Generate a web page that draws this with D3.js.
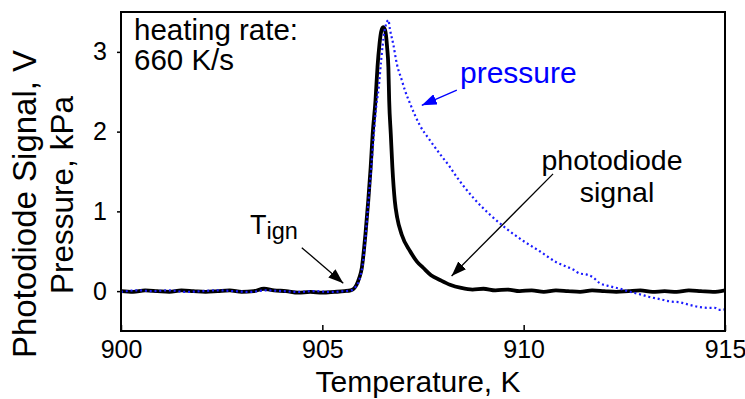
<!DOCTYPE html>
<html>
<head>
<meta charset="utf-8">
<script src="https://cdn.jsdelivr.net/npm/d3@7"></script>
<style>
  html, body { margin: 0; padding: 0; background: #fff; }
  svg { display: block; }
  text { font-family: "Liberation Sans", Arial, sans-serif; }
</style>
</head>
<body>
<svg id="chart" width="745" height="399"></svg>
<script>
// Photodiode signal (V) versus temperature (K)
const photoT = [900.0, 900.3, 900.6, 900.9, 901.2, 901.5, 901.8, 902.1, 902.4, 902.7,
  903.0, 903.3, 903.55, 903.8, 904.1, 904.4, 904.7, 905.0, 905.3, 905.55,
  905.70, 905.78, 905.85, 905.92, 905.98, 906.03, 906.07, 906.14, 906.20, 906.25,
  906.32, 906.37, 906.42, 906.46, 906.51, 906.56, 906.61, 906.64, 906.66, 906.70,
  906.74, 906.80, 906.86, 906.97, 907.18, 907.35, 907.51, 907.70, 907.92, 908.17,
  908.45, 908.73, 909.0, 909.3, 909.6, 909.9, 910.2, 910.5, 910.8, 911.1,
  911.4, 911.7, 912.0, 912.3, 912.6, 912.9, 913.2, 913.5, 913.8, 914.1,
  914.4, 914.7, 915.0];
const photoV = [0.00, -0.01, 0.01, 0.00, -0.01, 0.01, 0.00, -0.01, 0.00, 0.01,
  -0.01, 0.00, 0.03, 0.01, 0.00, -0.02, -0.01, -0.02, -0.01, 0.00,
  0.01, 0.03, 0.08, 0.17, 0.29, 0.50, 0.71, 1.13, 1.55, 1.97,
  2.39, 2.81, 3.10, 3.25, 3.31, 3.27, 3.05, 2.81, 2.39, 1.97,
  1.55, 1.13, 0.92, 0.71, 0.50, 0.37, 0.29, 0.20, 0.14, 0.08,
  0.04, 0.02, 0.03, 0.01, 0.02, 0.00, 0.01, -0.01, 0.01, 0.00,
  -0.01, 0.01, 0.00, -0.01, 0.00, 0.01, -0.01, 0.00, -0.01, 0.01,
  0.00, -0.01, 0.01];

// Chamber pressure (kPa) versus temperature (K)
const pressT = [900.0, 900.4, 900.8, 901.2, 901.6, 902.0, 902.4, 902.8, 903.2, 903.6,
  904.0, 904.4, 904.8, 905.2, 905.55, 905.72, 905.80, 905.88, 905.95, 906.00,
  906.05, 906.09, 906.15, 906.22, 906.28, 906.34, 906.40, 906.46, 906.54, 906.60,
  906.64, 906.68, 906.76, 906.85, 906.97, 907.05, 907.18, 907.42, 907.66, 907.92,
  908.15, 908.34, 908.55, 908.75, 909.16, 909.58, 909.99, 910.40, 910.82, 911.05,
  911.23, 911.40, 911.55, 911.73, 911.89, 912.15, 912.39, 912.65, 912.89, 913.10,
  913.38, 913.65, 913.88, 914.10, 914.38, 914.60, 914.75, 914.84, 915.0];
const pressP = [-0.01, 0.01, 0.00, 0.01, -0.01, 0.00, 0.01, 0.00, -0.01, 0.01,
  0.00, -0.01, 0.00, -0.01, 0.00, 0.01, 0.04, 0.09, 0.20, 0.32,
  0.55, 0.78, 1.15, 1.58, 1.97, 2.32, 2.55, 2.89, 3.25, 3.37,
  3.40, 3.28, 3.10, 2.85, 2.65, 2.52, 2.35, 2.08, 1.90, 1.72,
  1.57, 1.43, 1.29, 1.17, 0.96, 0.78, 0.63, 0.50, 0.36, 0.31,
  0.27, 0.22, 0.21, 0.17, 0.10, 0.06, 0.03, -0.01, -0.04, -0.07,
  -0.10, -0.13, -0.14, -0.17, -0.20, -0.21, -0.21, -0.235, -0.23];

// Axis ticks
const xTicks = [900, 905, 910, 915];
const yTicks = [0, 1, 2, 3];

const svg = d3.select("#chart");
const plot = { left: 121, right: 725, top: 12, bottom: 331 };

const x = d3.scaleLinear().domain([900, 915]).range([plot.left, plot.right]);
const y = d3.scaleLinear().domain([-0.5, 3.5]).range([plot.bottom, plot.top]);

// Arrowhead markers
const defs = svg.append("defs");
function arrowMarker(id, color) {
  defs.append("marker")
    .attr("id", id)
    .attr("viewBox", "0 0 15 11")
    .attr("refX", 15).attr("refY", 5.5)
    .attr("markerUnits", "userSpaceOnUse")
    .attr("markerWidth", 15).attr("markerHeight", 11)
    .attr("orient", "auto")
    .append("path").attr("d", "M0,0 L15,5.5 L0,11 Z").attr("fill", color);
}
arrowMarker("headBlack", "#000");
arrowMarker("headBlue", "#0000ff");

const clipId = "plotClip";
defs.append("clipPath").attr("id", clipId)
  .append("rect")
  .attr("x", plot.left).attr("y", plot.top)
  .attr("width", plot.right - plot.left).attr("height", plot.bottom - plot.top);

// Series
const photo = photoT.map((t, i) => [t, photoV[i]]);
const press = pressT.map((t, i) => [t, pressP[i]]);
const line = d3.line().x(d => x(d[0])).y(d => y(d[1])).curve(d3.curveMonotoneX);

const series = svg.append("g").attr("clip-path", `url(#${clipId})`);
series.append("path").datum(photo)
  .attr("d", line)
  .attr("fill", "none").attr("stroke", "#000")
  .attr("stroke-width", 3.8).attr("stroke-linejoin", "round");
series.append("path").datum(press)
  .attr("d", line)
  .attr("fill", "none").attr("stroke", "#1a1aff")
  .attr("stroke-width", 2.2).attr("stroke-dasharray", "2 2.8");

// Frame
svg.append("rect")
  .attr("x", plot.left).attr("y", plot.top)
  .attr("width", plot.right - plot.left).attr("height", plot.bottom - plot.top)
  .attr("fill", "none").attr("stroke", "#000").attr("stroke-width", 2);

// X axis: ticks pointing inward
const xAxis = svg.append("g").attr("transform", `translate(0,${plot.bottom})`)
  .call(d3.axisBottom(x).tickValues(xTicks).tickSizeInner(-6).tickSizeOuter(0)
    .tickPadding(9).tickFormat(d3.format("d")));
xAxis.select(".domain").remove();
xAxis.selectAll("line").attr("stroke", "#000").attr("stroke-width", 1.5);
xAxis.selectAll("text").attr("font-size", 25).attr("fill", "#000")
  .attr("font-family", "Liberation Sans, Arial, sans-serif");

// Y axis: ticks pointing outward
const yAxis = svg.append("g").attr("transform", `translate(${plot.left},0)`)
  .call(d3.axisLeft(y).tickValues(yTicks).tickSizeInner(4).tickSizeOuter(0)
    .tickPadding(10).tickFormat(d3.format("d")));
yAxis.select(".domain").remove();
yAxis.selectAll("line").attr("stroke", "#000").attr("stroke-width", 1.5);
yAxis.selectAll("text").attr("font-size", 25).attr("fill", "#000")
  .attr("font-family", "Liberation Sans, Arial, sans-serif");

// Axis titles
svg.append("text")
  .attr("x", (plot.left + plot.right) / 2 - 5).attr("y", 392)
  .attr("text-anchor", "middle").attr("font-size", 30)
  .text("Temperature, K");
svg.append("text")
  .attr("transform", "translate(36,204) rotate(-90)")
  .attr("text-anchor", "middle").attr("font-size", 33)
  .text("Photodiode Signal, V");
svg.append("text")
  .attr("transform", "translate(73,195) rotate(-90)")
  .attr("text-anchor", "middle").attr("font-size", 31.5)
  .text("Pressure, kPa");

// Heating-rate note
svg.append("text").attr("x", 134).attr("y", 40).attr("font-size", 29.5).text("heating rate:");
svg.append("text").attr("x", 134).attr("y", 70).attr("font-size", 29.5).text("660 K/s");

// Ignition point label and arrow
const tign = svg.append("text").attr("x", 250).attr("y", 234).attr("font-size", 27);
tign.append("tspan").text("T");
tign.append("tspan").attr("dy", 5).attr("font-size", 23.5).text("ign");
svg.append("line")
  .attr("x1", x(904.49)).attr("y1", y(0.545))
  .attr("x2", x(905.52)).attr("y2", y(0.10))
  .attr("stroke", "#000").attr("stroke-width", 1.3)
  .attr("marker-end", "url(#headBlack)");

// Pressure label and arrow
svg.append("text").attr("x", 460).attr("y", 83).attr("font-size", 30)
  .attr("fill", "#0000ff").text("pressure");
svg.append("line")
  .attr("x1", x(908.34)).attr("y1", y(2.52))
  .attr("x2", x(907.47)).attr("y2", y(2.33))
  .attr("stroke", "#0000ff").attr("stroke-width", 1.3)
  .attr("marker-end", "url(#headBlue)");

// Photodiode label and arrow
svg.append("text").attr("x", 612).attr("y", 170).attr("text-anchor", "middle")
  .attr("font-size", 28.5).text("photodiode");
svg.append("text").attr("x", 617).attr("y", 202).attr("text-anchor", "middle")
  .attr("font-size", 28.5).text("signal");
svg.append("line")
  .attr("x1", x(910.73)).attr("y1", y(1.47))
  .attr("x2", x(908.21)).attr("y2", y(0.19))
  .attr("stroke", "#000").attr("stroke-width", 1.3)
  .attr("marker-end", "url(#headBlack)");
</script>
</body>
</html>
